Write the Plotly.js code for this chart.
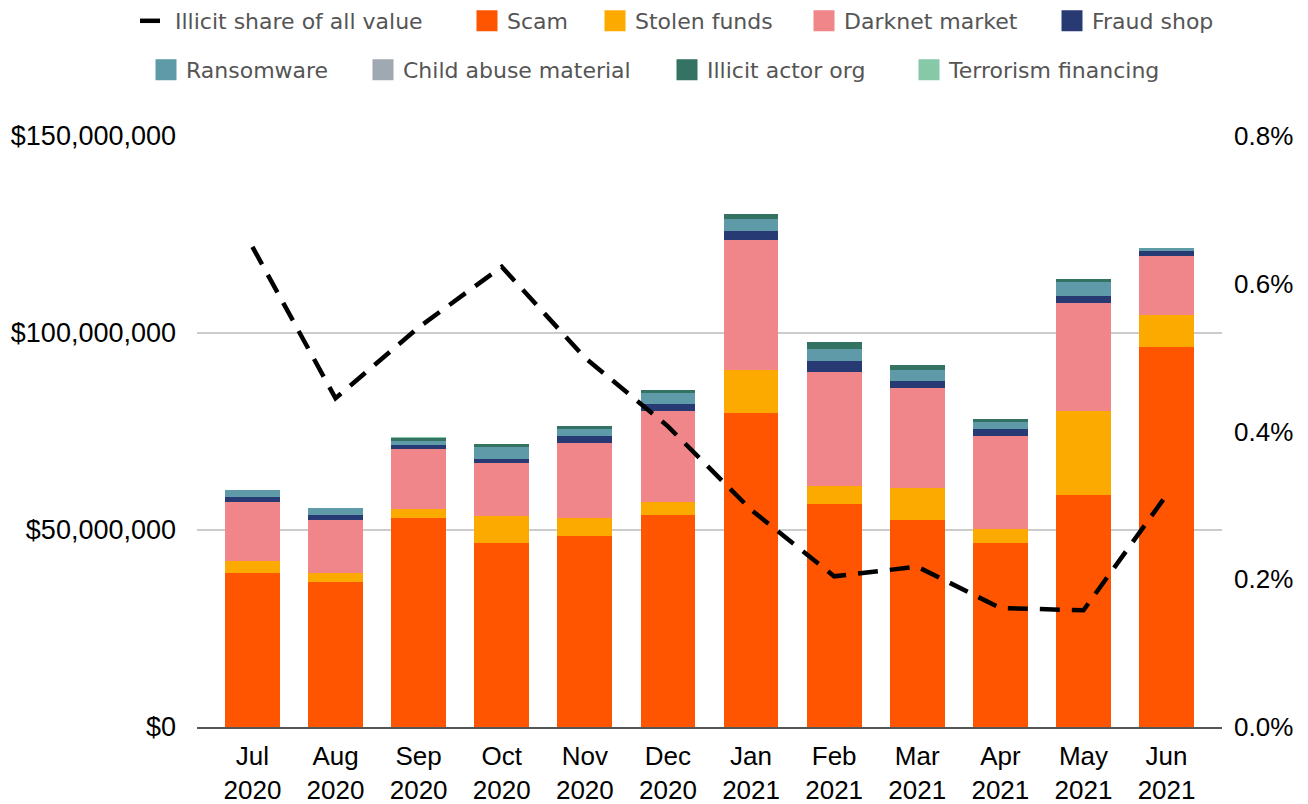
<!DOCTYPE html>
<html>
<head>
<meta charset="utf-8">
<script src="https://cdn.plot.ly/plotly-3.0.1.min.js"></script>
<style>html,body{margin:0;padding:0;background:#fff;}#chart{width:1308px;height:804px;}</style>
</head>
<body>
<div id="chart"></div>
<script>
// ---- data (values in millions of USD) ----
const months = ['Jul','Aug','Sep','Oct','Nov','Dec','Jan','Feb','Mar','Apr','May','Jun'];
const years  = ['2020','2020','2020','2020','2020','2020','2021','2021','2021','2021','2021','2021'];
const scam      = [39.1, 36.8, 53.0, 46.7, 48.5, 53.8, 79.7, 56.6, 52.6, 46.8, 59.0, 96.4];
const stolen    = [3.0, 2.3, 2.3, 6.9, 4.6, 3.3, 10.9, 4.6, 8.1, 3.5, 21.3, 8.1];
const darknet   = [15.0, 13.5, 15.2, 13.5, 19.0, 23.0, 33.0, 28.9, 25.4, 23.6, 27.2, 15.0];
const fraudShop = [1.3, 1.3, 1.0, 1.0, 1.8, 1.8, 2.3, 2.8, 1.8, 1.8, 1.8, 1.3];
const ransomware= [1.8, 1.8, 1.0, 3.0, 1.8, 2.8, 3.0, 3.0, 2.8, 1.8, 3.6, 0.8];
const childAbuse= [0, 0, 0, 0, 0, 0, 0, 0, 0, 0, 0, 0];
const actorOrg  = [0, 0, 0.9, 0.8, 0.8, 0.8, 1.3, 1.8, 1.3, 0.8, 0.8, 0];
const terrorism = [0, 0, 0.2, 0, 0, 0, 0, 0, 0, 0, 0, 0];
const illicitShare = [0.00650, 0.00445, 0.00541, 0.00623, 0.00500, 0.00407, 0.00294, 0.00204, 0.00217, 0.00161, 0.00158, 0.00314];
const yTickVals = [0, 50e6, 100e6, 150e6];
const y2TickVals = [0, 0.002, 0.004, 0.006, 0.008];

const cats = months.map((m, i) => m + '<br>' + years[i]);

const series = [
  {name: 'Scam', v: scam, color: '#FF5500', legend: 'legend', lw: 83},
  {name: 'Stolen funds', v: stolen, color: '#FDAA00', legend: 'legend', lw: 164},
  {name: 'Darknet market', v: darknet, color: '#F0868A', legend: 'legend', lw: 203},
  {name: 'Fraud shop', v: fraudShop, color: '#283A74', legend: 'legend', lw: null},
  {name: 'Ransomware', v: ransomware, color: '#5E9AA8', legend: 'legend2', lw: 172},
  {name: 'Child abuse material', v: childAbuse, color: '#A0A8B2', legend: 'legend2', lw: 259},
  {name: 'Illicit actor org', v: actorOrg, color: '#347263', legend: 'legend2', lw: 197},
  {name: 'Terrorism financing', v: terrorism, color: '#87C8A8', legend: 'legend2', lw: null}
];

const traces = [];
traces.push({
  type: 'scatter', mode: 'lines', name: 'Illicit share of all value',
  x: cats, y: illicitShare, yaxis: 'y2',
  line: {color: '#000', width: 4.5, dash: '20px,12px'},
  legend: 'legend', legendwidth: 287, hoverinfo: 'y'
});
series.forEach(s => {
  traces.push({
    type: 'bar', name: s.name, x: cats, y: s.v.map(v => v * 1e6),
    marker: {color: s.color}, showlegend: false, legendgroup: s.name
  });
});
// legend entries (large squares)
series.forEach(s => {
  const t = {
    type: 'scatter', mode: 'markers', name: s.name, x: [null], y: [null],
    marker: {symbol: 'square', size: 16, color: s.color, line: {color: s.color, width: 5}},
    legend: s.legend, legendgroup: s.name, hoverinfo: 'skip'
  };
  if (s.lw) t.legendwidth = s.lw;
  traces.push(t);
});

const fam = 'Liberation Sans, Arial, sans-serif';
const legFont = {family: 'DejaVu Sans, sans-serif', size: 22, color: '#555'};

const layout = {
  width: 1308, height: 804,
  margin: {l: 197, r: 86, t: 136, b: 77, autoexpand: false},
  paper_bgcolor: '#fff', plot_bgcolor: '#fff',
  barmode: 'stack', bargap: 0.34,
  showlegend: true,
  xaxis: {
    type: 'category', range: [-0.667, 11.667], fixedrange: true,
    showgrid: false, showline: true, linecolor: '#555', linewidth: 2,
    ticks: '', tickfont: {family: fam, size: 26, color: '#000'}, ticklabelstandoff: 5
  },
  yaxis: {
    range: [0, 150e6], tickvals: yTickVals, tickformat: '$,.0f',
    showgrid: true, gridcolor: '#cccccc', gridwidth: 2, zeroline: false,
    showline: false, ticks: '', tickfont: {family: fam, size: 27, color: '#000'}, ticklabelstandoff: 20
  },
  yaxis2: {
    overlaying: 'y', side: 'right', range: [0, 0.008], tickvals: y2TickVals,
    tickformat: '.1%', showgrid: false, zeroline: false, showline: false,
    ticks: '', tickfont: {family: fam, size: 26, color: '#000'}, ticklabelstandoff: 11
  },
  legend: {
    orientation: 'h', xref: 'paper', yref: 'paper',
    x: (135 - 197) / 1025, xanchor: 'left', y: (727 - 21) / 591, yanchor: 'middle',
    font: legFont, bgcolor: 'rgba(0,0,0,0)', traceorder: 'normal'
  },
  legend2: {
    orientation: 'h', xref: 'paper', yref: 'paper',
    x: (146 - 197) / 1025, xanchor: 'left', y: (727 - 70) / 591, yanchor: 'middle',
    font: legFont, bgcolor: 'rgba(0,0,0,0)', traceorder: 'normal'
  }
};

Plotly.newPlot('chart', traces, layout, {displayModeBar: false, responsive: false});
</script>
</body>
</html>
